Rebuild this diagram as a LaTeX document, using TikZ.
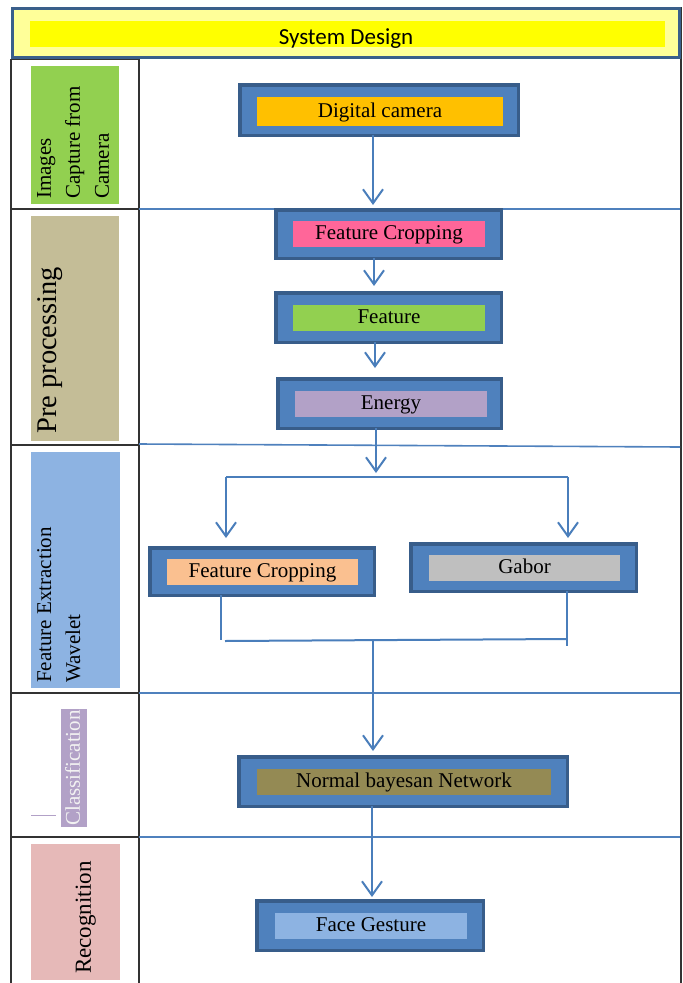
\documentclass[tikz,border=0pt]{standalone}
\usepackage{fontspec}
\setmainfont{Liberation Serif}
\newfontfamily\calibrifont{Carlito}
\usetikzlibrary{arrows.meta,calc}
\definecolor{boxblue}{HTML}{4F81BD}
\definecolor{boxborder}{HTML}{385D8A}
\definecolor{connblue}{HTML}{4A7EBB}
\definecolor{titleborder}{HTML}{3A5F8B}
\definecolor{paleyellow}{HTML}{FFFF99}
\definecolor{brightyellow}{HTML}{FFFF00}
\definecolor{camorange}{HTML}{FFC000}
\definecolor{hotpink}{HTML}{FF6699}
\definecolor{leafgreen}{HTML}{92D050}
\definecolor{lavender}{HTML}{B2A1C7}
\definecolor{peach}{HTML}{FAC090}
\definecolor{midgray}{HTML}{BFBFBF}
\definecolor{olive}{HTML}{948A54}
\definecolor{skyblue}{HTML}{8DB3E2}
\definecolor{tanbox}{HTML}{C4BD97}
\definecolor{rosebox}{HTML}{E6B9B8}
\definecolor{gridblack}{HTML}{333333}
\definecolor{offwhite}{HTML}{F2F2F2}
\begin{document}
\begin{tikzpicture}[x=1pt,y=-1pt,
  outerbox/.style={draw=boxborder, line width=3.5pt, fill=boxblue, inner sep=0pt, outer sep=0pt},
  innerbox/.style={fill=#1, inner sep=0pt, outer sep=0pt, minimum height=26pt,
    font=\fontsize{21}{25}\selectfont, text height=14.5pt, text depth=3.5pt},
  conn/.style={draw=connblue, line width=2pt},
  arr/.style={conn, -{Straight Barb[length=14pt,width=20pt]}},
  sepline/.style={draw=boxblue, line width=1.6pt},
  gridline/.style={draw=gridblack, line width=1.5pt},
  labelbox/.style={fill=#1, inner sep=0pt, outer sep=0pt},
  sidetext/.style={rotate=90, anchor=north west, align=left, inner sep=0pt}
]
\useasboundingbox (0,0) rectangle (683,983);

% ---------- grid -------------
\draw[gridline] (11,59) -- (139,59);
\draw[gridline] (11,59) -- (11,983);
\draw[gridline] (139,59) -- (139,983);
\draw[gridline] (681,7) -- (681,983);
\draw[gridline] (11,209) -- (139,209);
\draw[gridline] (11,445) -- (139,445);
\draw[gridline] (11,693) -- (139,693);
\draw[gridline] (11,837) -- (139,837);
\draw[sepline] (139,209) -- (680,209);
\draw[sepline] (139,444) -- (680,447);
\draw[sepline] (139,693) -- (680,693);
\draw[sepline] (139,837) -- (680,837);

% ---------- title -------------
\node[draw=titleborder, line width=3pt, fill=paleyellow, inner sep=0pt,
      minimum width=667pt, minimum height=49pt] (title) at (346,33) {};
\node[fill=brightyellow, inner sep=0pt, minimum width=635pt, minimum height=26pt]
      (titlein) at (347.5,34) {};
\node[anchor=base, inner sep=0pt, font=\calibrifont\fontsize{23}{27}\selectfont]
      (titletext) at (346,44.5) {System Design};

% ---------- left labels -------------
\node[labelbox=leafgreen, minimum width=88pt, minimum height=138pt] (lab1) at (75,135) {};
\node[sidetext, font=\fontsize{21}{29}\selectfont] (lab1t) at (37,199) {Images\\Capture from\\Camera};

\node[labelbox=tanbox, minimum width=88pt, minimum height=225pt] (lab2) at (75,328.5) {};
\node[sidetext, font=\fontsize{28.5}{32}\selectfont] (lab2t) at (37.5,434) {Pre processing};

\node[labelbox=skyblue, minimum width=89pt, minimum height=236pt] (lab3) at (75.5,570) {};
\node[sidetext, font=\fontsize{21}{29}\selectfont] (lab3t) at (37,683) {Feature Extraction\\Wavelet};

\node[labelbox=lavender, minimum width=26pt, minimum height=118pt] (lab4) at (74,768) {};
\node[sidetext, text=offwhite, font=\fontsize{21}{25}\selectfont] (lab4t) at (65,826) {Classification};
\draw[draw=lavender, line width=1pt] (31,815) -- (56,815);

\node[labelbox=rosebox, minimum width=89pt, minimum height=136pt] (lab5) at (75.5,912) {};
\node[sidetext, font=\fontsize{23}{27}\selectfont] (lab5t) at (75.5,974) {Recognition};

% ---------- boxes -------------
\node[outerbox, minimum width=278.5pt, minimum height=50.5pt] (cam) at (379,110) {};
\node[innerbox=camorange, minimum width=246pt, minimum height=29pt] (camin) at (380,111.5) {Digital camera};

\node[outerbox, minimum width=225.5pt, minimum height=48.5pt] (fc1) at (388.5,234) {};
\node[innerbox=hotpink, minimum width=192pt] (fc1in) at (389,234) {Feature Cropping};

\node[outerbox, minimum width=225.5pt, minimum height=49.5pt] (feat) at (388.5,317.5) {};
\node[innerbox=leafgreen, minimum width=192pt] (featin) at (389,318) {Feature};

\node[outerbox, minimum width=223.5pt, minimum height=49.5pt] (energy) at (389.5,403.5) {};
\node[innerbox=lavender, minimum width=192pt] (energyin) at (391,404) {Energy};

\node[outerbox, minimum width=224.5pt, minimum height=47.5pt] (fc2) at (262,571.5) {};
\node[innerbox=peach, minimum width=191pt] (fc2in) at (262.5,572) {Feature Cropping};

\node[outerbox, minimum width=225.5pt, minimum height=47.5pt] (gabor) at (523.5,567.5) {};
\node[innerbox=midgray, minimum width=191pt] (gaborin) at (524.5,568) {Gabor};

\node[outerbox, minimum width=328.5pt, minimum height=49.5pt] (nbn) at (403,781.5) {};
\node[innerbox=olive, minimum width=294pt] (nbnin) at (404,782) {Normal bayesan Network};

\node[outerbox, minimum width=226.5pt, minimum height=49.5pt] (face) at (370,925.5) {};
\node[innerbox=skyblue, minimum width=192pt] (facein) at (371,926) {Face Gesture};

% ---------- connectors -------------
\coordinate (t1) at (373,205);
\coordinate (t2) at (374,286);
\coordinate (t3) at (375,368);
\coordinate (t4) at (376,473);
\coordinate (b1) at (226,477);
\coordinate (b2) at (568,477);
\coordinate (t5) at (226,538);
\coordinate (t6) at (568,538);
\coordinate (m1) at (221,640);
\coordinate (m2) at (225,641);
\coordinate (m3) at (567,639);
\coordinate (m4) at (567,646);
\coordinate (m5) at (373,640);
\coordinate (t7) at (373,751);
\coordinate (t8) at (372,897);

\draw[arr] (cam.south -| t1) -- (t1);
\draw[arr] (fc1.south -| t2) -- (t2);
\draw[arr] (feat.south -| t3) -- (t3);
\draw[arr] (energy.south -| t4) -- (t4);
\draw[conn] (b1) -- (b2);
\draw[arr] (b1) -- (t5);
\draw[arr] (b2) -- (t6);
\draw[conn] (fc2.south -| m1) -- (m1);
\draw[conn] (m2) -- (m3);
\draw[conn] (gabor.south -| m4) -- (m4);
\draw[arr] (m5) -- (t7);
\draw[arr] (nbn.south -| t8) -- (t8);
\end{tikzpicture}
\end{document}
